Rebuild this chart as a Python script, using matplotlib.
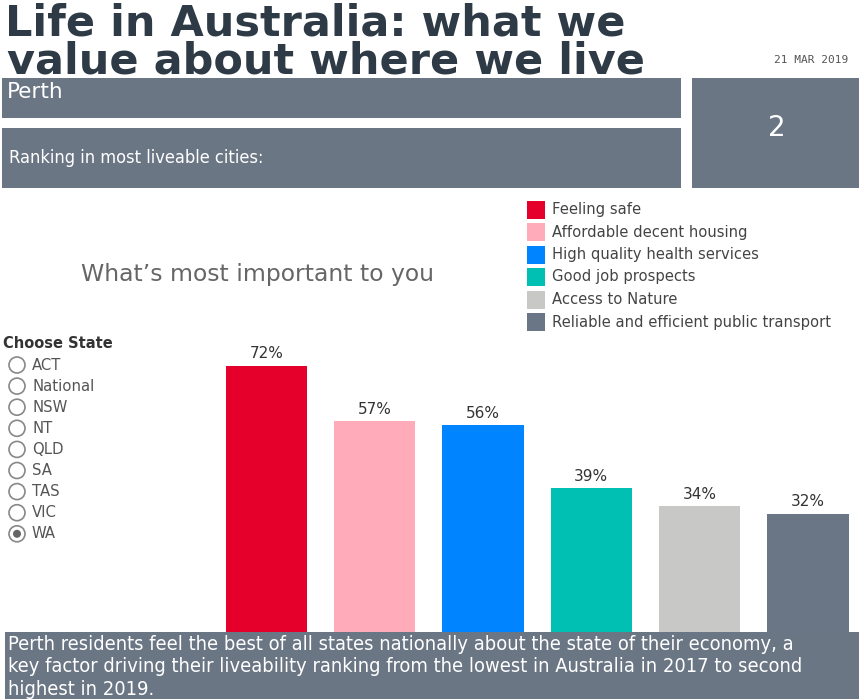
import matplotlib
matplotlib.use("Agg")
import matplotlib.pyplot as plt
from matplotlib.patches import Rectangle, Circle

# data
categories = ["Feeling safe", "Affordable decent housing", "High quality health services",
              "Good job prospects", "Access to Nature", "Reliable and efficient public transport"]
values = [72, 57, 56, 39, 34, 32]
colors = ["#e4002b", "#ffabba", "#0084ff", "#00bfb3", "#c8c8c6", "#6a7585"]
states = ["ACT", "National", "NSW", "NT", "QLD", "SA", "TAS", "VIC", "WA"]
selected_state = "WA"
city = "Perth"
rank = "2"
summary = ("Perth residents feel the best of all states nationally about the state of their economy, a\n"
           "key factor driving their liveability ranking from the lowest in Australia in 2017 to second\n"
           "highest in 2019.")

W, H = 859, 699
SLATE = "#6b7685"
NARROW = dict(family="DejaVu Sans", fontstretch="condensed")

fig = plt.figure(figsize=(W / 100, H / 100), dpi=100)
fig.patch.set_facecolor("white")

# pixel-space overlay for the dashboard furniture
bg = fig.add_axes([0, 0, 1, 1])
bg.set_xlim(0, W)
bg.set_ylim(H, 0)
bg.axis("off")

# title
bg.text(5, 35, "Life in Australia: what we", fontsize=31, fontweight="bold",
        color="#2e3b46", va="baseline")
bg.text(7, 74, "value about where we live", fontsize=31, fontweight="bold",
        color="#2e3b46", va="baseline")
bg.text(848, 63, "21 MAR 2019", fontsize=8, family="DejaVu Sans Mono",
        color="#555555", ha="right", va="baseline")

# header boxes
bg.add_patch(Rectangle((2, 78), 679, 40, color=SLATE, lw=0))
bg.add_patch(Rectangle((2, 128), 679, 60, color=SLATE, lw=0))
bg.add_patch(Rectangle((692, 78), 167, 110, color=SLATE, lw=0))
bg.text(7, 98, city, fontsize=15.5, color="white", va="baseline")
bg.text(9, 158, "Ranking in most liveable cities:", fontsize=13.1, color="white",
        va="center", **NARROW)
bg.text(776.5, 136, rank, fontsize=20, color="white", ha="center", va="baseline")

# chart title
bg.text(81, 275, "What\u2019s most important to you", fontsize=16.9, color="#666666",
        va="center")

# legend
for i, (cat, col) in enumerate(zip(categories, colors)):
    y = 209.5 + i * 22.5
    bg.add_patch(Rectangle((527, y - 9), 18, 18, color=col, lw=0))
    bg.text(552, y, cat, fontsize=10.6, color="#444444", va="center")

# state selector
bg.text(3, 344, "Choose State", fontsize=10.5, fontweight="bold", color="#333333",
        va="center")
for i, st in enumerate(states):
    y = 365 + i * 21.1
    bg.add_patch(Circle((17, y), 8, fill=False, ec="#888888", lw=1.2))
    if st == selected_state:
        bg.add_patch(Circle((17, y), 4, color="#666666", lw=0))
    bg.text(32, y, st, fontsize=10.7, color="#555555", va="center")

# bottom summary box
bg.add_patch(Rectangle((5, 632), W - 5, H - 632, color=SLATE, lw=0))
bg.text(8, 635, summary, fontsize=14.4, color="white", va="top", linespacing=1.22,
        **NARROW)

# bar chart
top_px, bot_px = 340, 632
ax = fig.add_axes([212 / W, (H - bot_px) / H, 639.5 / W, (bot_px - top_px) / H])
x = list(range(len(categories)))
bars = ax.bar(x, values, width=0.75, color=colors)
ax.set_xlim(-0.5, 5.4)
ax.set_ylim(0, (bot_px - top_px) / 3.7)
ax.axis("off")
for b, v in zip(bars, values):
    ax.annotate(f"{v}%", (b.get_x() + b.get_width() / 2, v), xytext=(0, 3),
                textcoords="offset points", ha="center", va="bottom",
                fontsize=11, color="#333333")

fig.savefig("out.png", dpi=100)
